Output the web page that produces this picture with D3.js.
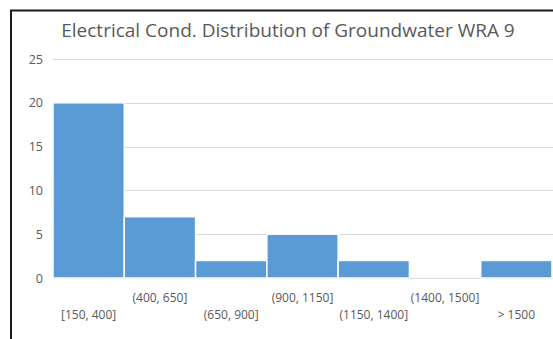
<!DOCTYPE html>
<html>
<head>
<meta charset="utf-8">
<script src="https://cdn.jsdelivr.net/npm/d3@7/dist/d3.min.js"></script>
<style>
  html, body { margin: 0; padding: 0; background: #fff; }
  svg { display: block; font-family: "Open Sans", "Noto Sans", sans-serif; }
</style>
</head>
<body>
<svg id="chart" width="553" height="339"></svg>
<script>
// Histogram bins and counts
const categories = ["[150, 400]", "(400, 650]", "(650, 900]", "(900, 1150]", "(1150, 1400]", "(1400, 1500]", "> 1500"];
const counts = [20, 7, 2, 5, 2, 0, 2];
const yTicks = [0, 5, 10, 15, 20, 25];
const title = "Electrical Cond. Distribution of Groundwater WRA 9";

const svg = d3.select("#chart");
const W = 553, H = 339;
const margin = { left: 53, right: 1, top: 59, bottom: 60 };

// Chart frame (left and top edges)
svg.append("path")
  .attr("d", `M11,${H} L11,10.5 L${W},10.5`)
  .attr("fill", "none")
  .attr("stroke", "#1a1a1a")
  .attr("stroke-width", 2);

const x = d3.scaleBand()
  .domain(categories)
  .range([margin.left, W - margin.right])
  .paddingInner(0)
  .paddingOuter(0);

const y = d3.scaleLinear()
  .domain([0, 25])
  .range([H - margin.bottom - 1, margin.top]);

// Gridlines
svg.append("g")
  .selectAll("line")
  .data(yTicks)
  .join("line")
  .attr("x1", margin.left)
  .attr("x2", W)
  .attr("y1", d => Math.round(y(d)) + 0.5)
  .attr("y2", d => Math.round(y(d)) + 0.5)
  .attr("stroke", "#d9d9d9")
  .attr("stroke-width", 1);

// Y axis labels
const yAxis = d3.axisLeft(y).tickValues(yTicks).tickSize(0).tickPadding(0);
const gy = svg.append("g")
  .attr("transform", `translate(${margin.left - 10},0)`)
  .call(yAxis);
gy.select(".domain").remove();
gy.selectAll("text")
  .attr("fill", "#595959")
  .attr("font-size", 12.5)
  .attr("font-family", "\"Open Sans\", sans-serif");

// Bars
svg.append("g")
  .selectAll("rect")
  .data(categories.map((c, i) => ({ c, v: counts[i] })))
  .join("rect")
  .attr("x", d => x(d.c))
  .attr("width", x.bandwidth())
  .attr("y", d => y(d.v))
  .attr("height", d => y(0) - y(d.v))
  .attr("fill", "#5b9bd5")
  .attr("stroke", "#ffffff")
  .attr("stroke-width", 1.5);

// Category labels, staggered on two rows
svg.append("g")
  .selectAll("text")
  .data(categories)
  .join("text")
  .attr("x", d => x(d) + x.bandwidth() / 2)
  .attr("y", (d, i) => i % 2 === 0 ? 319 : 302)
  .attr("text-anchor", "middle")
  .attr("fill", "#595959")
  .attr("font-size", 12)
  .text(d => d);

// Title
svg.append("text")
  .attr("x", 288)
  .attr("y", 37)
  .attr("text-anchor", "middle")
  .attr("fill", "#595959")
  .attr("font-size", 19)
  .text(title);
</script>
</body>
</html>
